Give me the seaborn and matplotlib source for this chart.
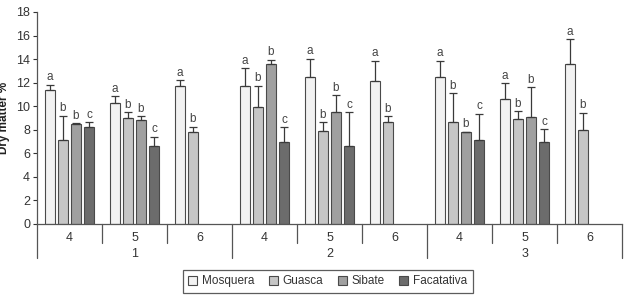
import numpy as np
import pandas as pd
import matplotlib
matplotlib.use("Agg")
import matplotlib.pyplot as plt
import matplotlib.transforms as mtransforms
from matplotlib.patches import Patch
import seaborn as sns

# ---------------- data ----------------
locations = ["Mosquera", "Guasca", "Sibate", "Facatativa"]
major_labels = ["1", "2", "3"]
minor_labels = ["4", "5", "6"]

# values per (major, minor) group, in location order (None = missing)
mosquera   = [11.4, 10.3, 11.7, 11.7, 12.5, 12.1, 12.5, 10.6, 13.6]
guasca     = [7.1, 9.0, 7.8, 9.9, 7.9, 8.7, 8.7, 8.9, 8.0]
sibate     = [8.45, 8.8, None, 13.55, 9.55, None, 7.8, 9.1, None]
facatativa = [8.2, 6.6, None, 7.0, 6.6, None, 7.1, 7.0, None]

mosquera_err   = [0.43, 0.55, 0.5, 1.55, 1.55, 1.75, 1.36, 1.36, 2.1]
guasca_err     = [2.1, 0.48, 0.45, 1.84, 0.76, 0.45, 2.4, 0.7, 1.44]
sibate_err     = [0.1, 0.37, None, 0.4, 1.41, None, 0.05, 2.49, None]
facatativa_err = [0.43, 0.8, None, 1.2, 2.9, None, 2.27, 1.04, None]

mosquera_let   = ["a"] * 9
guasca_let     = ["b"] * 9
sibate_let     = ["b", "b", None, "b", "b", None, "b", "b", None]
facatativa_let = ["c", "c", None, "c", "c", None, "c", "c", None]

colors = ["#f2f2f2", "#c6c6c6", "#a0a0a0", "#6c6c6c"]

# ---------------- build table ----------------
group_names = [f"{M}-{m}" for M in major_labels for m in minor_labels]
vals = [mosquera, guasca, sibate, facatativa]
errs = [mosquera_err, guasca_err, sibate_err, facatativa_err]
lets = [mosquera_let, guasca_let, sibate_let, facatativa_let]

rows = []
info = {}
for li, loc in enumerate(locations):
    for gi, g in enumerate(group_names):
        v = vals[li][gi]
        if v is None:
            continue
        rows.append({"group": g, "location": loc, "value": v})
        info[(gi, loc)] = (errs[li][gi], lets[li][gi])
df = pd.DataFrame(rows)

# ---------------- plot ----------------
sns.set_style("white")
plt.rcParams["font.family"] = ["Liberation Sans", "DejaVu Sans"]
text_col = "#333333"

fig = plt.figure(figsize=(6.24, 3.02), dpi=100)
ax = fig.add_axes([37 / 624, 78 / 302, 585 / 624, 212 / 302])

sns.barplot(data=df, x="group", y="value", hue="location",
            order=group_names, hue_order=locations, palette=colors,
            errorbar=None, width=0.8, gap=0.22, edgecolor="#4a4a4a",
            linewidth=0.8, ax=ax, legend=False)

for container, loc in zip(ax.containers, locations):
    for p in container.patches:
        h = p.get_height()
        if not np.isfinite(h):
            continue
        xc = p.get_x() + p.get_width() / 2
        gi = int(round(xc))
        e, letter = info[(gi, loc)]
        ax.errorbar(xc, h, yerr=[[0], [e]], fmt="none", ecolor="#3a3a3a",
                    elinewidth=0.9, capsize=3.2, capthick=0.9, zorder=3)
        if letter:
            ax.text(xc, h + e + 0.12, letter, ha="center", va="bottom",
                    fontsize=8.5, color="#444444")

ax.set_xlim(-0.5, len(group_names) - 0.5)
ax.set_ylim(0, 18)
ax.set_yticks(np.arange(0, 19, 2))
ax.tick_params(axis="y", labelsize=9, colors=text_col, length=3, width=0.8,
               direction="out", left=True, pad=2)
ax.set_xticks([])
ax.set_xlabel("")
ax.set_ylabel("Dry matter %", fontsize=8.5, fontweight="bold", color="#222222",
              labelpad=4)
for s in ["top", "right"]:
    ax.spines[s].set_visible(False)
for s in ["left", "bottom"]:
    ax.spines[s].set_color("#555555")
    ax.spines[s].set_linewidth(0.9)

# hierarchical x axis
trans = mtransforms.blended_transform_factory(ax.transData, ax.transAxes)
n = len(group_names)
for k in range(n + 1):
    xs = k - 0.5
    major = (k % 3 == 0)
    ln = 0.16 if major else 0.09
    ax.plot([xs, xs], [0, -ln], transform=trans, color="#555555", lw=0.9,
            clip_on=False)
for gi, g in enumerate(group_names):
    ax.text(gi, -0.04, minor_labels[gi % 3], transform=trans, ha="center",
            va="top", fontsize=9, color=text_col)
for Mi, M in enumerate(major_labels):
    ax.text(Mi * 3 + 1, -0.115, M, transform=trans, ha="center", va="top",
            fontsize=9, color=text_col)

# legend
handles = [Patch(facecolor=c, edgecolor="#4a4a4a", linewidth=0.8) for c in colors]
leg = fig.legend(handles, locations, loc="center", bbox_to_anchor=(0.525, 0.068),
                 ncol=4, frameon=True, fancybox=False, fontsize=8.5,
                 handlelength=0.8, handleheight=0.8, handletextpad=0.4,
                 columnspacing=1.2, borderpad=0.45)
leg.get_frame().set_edgecolor("#333333")
leg.get_frame().set_linewidth(0.9)
for t in leg.get_texts():
    t.set_color(text_col)

fig.savefig("out.png", dpi=100)
